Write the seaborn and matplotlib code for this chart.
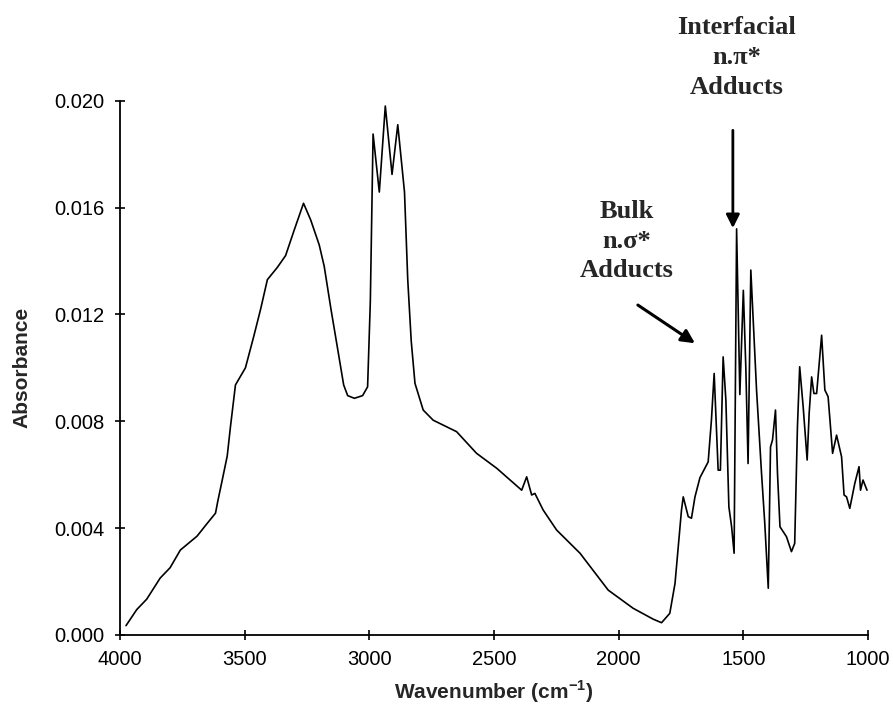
import matplotlib
matplotlib.use("Agg")
import matplotlib.pyplot as plt
import seaborn as sns
import numpy as np
import pandas as pd

# ---- data ----
wavenumber = [
    3976, 3933, 3893, 3839, 3799, 3758, 3691, 3651, 3617, 3608, 3590, 3570,
    3557, 3537, 3497, 3463, 3436, 3409, 3369, 3336, 3302, 3264, 3235, 3201,
    3181, 3154, 3127, 3103, 3087, 3060, 3027, 3007, 2996, 2985, 2960, 2936,
    2909, 2886, 2859, 2846, 2832, 2817, 2784, 2744, 2650, 2570, 2489, 2389,
    2369, 2349, 2336, 2303, 2249, 2155, 2042, 1942, 1861, 1828, 1795, 1774,
    1748, 1741, 1721, 1708, 1694, 1674, 1641, 1628, 1617, 1601, 1592, 1581,
    1570, 1558, 1547, 1537, 1527, 1514, 1500, 1490, 1481, 1470, 1447, 1427,
    1414, 1400, 1391, 1383, 1371, 1363, 1353, 1327, 1307, 1294, 1283, 1274,
    1260, 1244, 1236, 1226, 1217, 1206, 1186, 1173, 1160, 1142, 1126, 1106,
    1096, 1086, 1073, 1053, 1036, 1030, 1020, 1004,
]
absorbance = [
    0.00035, 0.00095, 0.00134, 0.00213, 0.00252, 0.00318, 0.00370, 0.00417,
    0.00456, 0.00500, 0.00580, 0.00670, 0.00780, 0.00936, 0.01000, 0.01120,
    0.01220, 0.01330, 0.01376, 0.01420, 0.01514, 0.01616, 0.01553, 0.01460,
    0.01380, 0.01220, 0.01070, 0.00936, 0.00896, 0.00886, 0.00896, 0.00929,
    0.01250, 0.01875, 0.01658, 0.01980, 0.01724, 0.01910, 0.01658, 0.01330,
    0.01100, 0.00942, 0.00842, 0.00804, 0.00761, 0.00680, 0.00624, 0.00542,
    0.00592, 0.00524, 0.00530, 0.00468, 0.00393, 0.00306, 0.00168, 0.00100,
    0.00059, 0.00046, 0.00081, 0.00193, 0.00468, 0.00517, 0.00443, 0.00437,
    0.00517, 0.00589, 0.00648, 0.00804, 0.00979, 0.00617, 0.00617, 0.01041,
    0.00879, 0.00480, 0.00405, 0.00306, 0.01520, 0.00900, 0.01290, 0.01000,
    0.00642, 0.01366, 0.00917, 0.00605, 0.00418, 0.00175, 0.00704, 0.00730,
    0.00842, 0.00605, 0.00405, 0.00368, 0.00312, 0.00343, 0.00779, 0.01004,
    0.00854, 0.00655, 0.00830, 0.00966, 0.00904, 0.00904, 0.01122, 0.00917,
    0.00892, 0.00680, 0.00748, 0.00667, 0.00524, 0.00517, 0.00474, 0.00567,
    0.00630, 0.00542, 0.00580, 0.00542,
]
x_ticks = [4000, 3500, 3000, 2500, 2000, 1500, 1000]
y_ticks = [0.000, 0.004, 0.008, 0.012, 0.016, 0.020]
x_label = r"Wavenumber (cm$^{\mathbf{-1}}$)"
y_label = "Absorbance"
interfacial_text = "Interfacial\nn.\u03c0*\nAdducts"
bulk_text = "Bulk\nn.\u03c3*\nAdducts"

df = pd.DataFrame({"wavenumber": wavenumber, "absorbance": absorbance})

sns.set_theme(style="ticks")
plt.rcParams["font.family"] = ["Liberation Sans", "DejaVu Sans"]
plt.rcParams["mathtext.fontset"] = "custom"
plt.rcParams["mathtext.rm"] = "Liberation Sans"
plt.rcParams["mathtext.bf"] = "Liberation Sans:bold"

fig = plt.figure(figsize=(8.93, 7.11), dpi=100)
ax = fig.add_axes([0.1344, 0.1069, 0.8376, 0.7515])

sns.lineplot(data=df, x="wavenumber", y="absorbance", ax=ax, color="black",
             linewidth=1.2, estimator=None, sort=True)

ax.set_xlim(4000, 1000)
ax.set_ylim(0.0, 0.020)
ax.set_xticks(x_ticks)
ax.set_xticklabels([str(t) for t in x_ticks])
ax.set_yticks(y_ticks)
ax.set_yticklabels([f"{t:.3f}" for t in y_ticks])
sns.despine(ax=ax)
for s in ["left", "bottom"]:
    ax.spines[s].set_linewidth(1.3)
    ax.spines[s].set_color("black")

ax.tick_params(axis="both", direction="inout", length=7, width=1.2,
               colors="black", labelsize=14.5)
ax.tick_params(axis="y", pad=8)
ax.tick_params(axis="x", pad=7)

ax.set_xlabel(x_label, fontsize=15, fontweight="bold", labelpad=7)
ax.set_ylabel(y_label, fontsize=15, fontweight="bold", labelpad=16)

serif = ["Liberation Serif", "DejaVu Serif"]
# Interfacial annotation
ax.text(1526, 0.02162, interfacial_text, ha="center", va="center",
        fontsize=19, fontweight="bold", family=serif, linespacing=1.37,
        clip_on=False)
ax.annotate("", xy=(1542, 0.01523), xytext=(1542, 0.01889),
            arrowprops=dict(arrowstyle="-|>", lw=2.0, color="black",
                            mutation_scale=20, shrinkA=0, shrinkB=0),
            annotation_clip=False)
# Bulk annotation
ax.text(1967, 0.01474, bulk_text, ha="center", va="center",
        fontsize=19, fontweight="bold", family=serif, linespacing=1.37,
        clip_on=False)
ax.annotate("", xy=(1694, 0.01092), xytext=(1923, 0.01235),
            arrowprops=dict(arrowstyle="-|>", lw=2.2, color="black",
                            mutation_scale=20, shrinkA=0, shrinkB=0),
            annotation_clip=False)

fig.savefig("out.png", dpi=100)
